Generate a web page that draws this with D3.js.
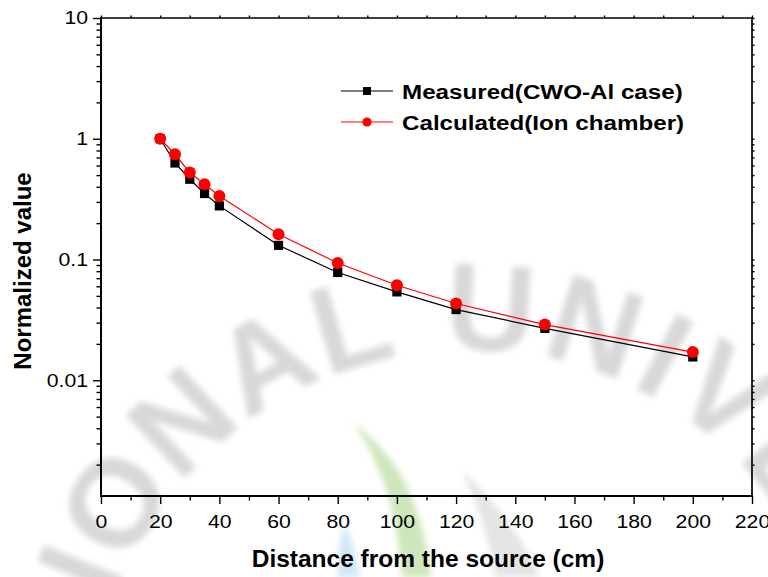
<!DOCTYPE html>
<html lang="en">
<head>
<meta charset="UTF-8">
<script src="https://cdn.jsdelivr.net/npm/d3@7"></script>
<style>
    body { margin: 0; background: #fff; }
    svg { display: block; font-family: "Liberation Sans", Arial, sans-serif; }
</style>
</head>
<body>
<script>
    /*------------------- data --------------------*/
    const distance   = [20, 25, 30, 35, 40, 60, 80, 100, 120, 150, 200];
    const measured   = [1, 0.630, 0.462, 0.352, 0.278, 0.131, 0.078, 0.0539, 0.0385, 0.0269, 0.0156];
    const calculated = [1, 0.744, 0.525, 0.420, 0.336, 0.162, 0.0936, 0.0612, 0.0432, 0.0289, 0.0171];
    const seriesNames = ["Measured(CWO-Al case)", "Calculated(Ion chamber)"];
    const xTickValues = [0, 20, 40, 60, 80, 100, 120, 140, 160, 180, 200, 220];
    const xMinorValues = [10, 30, 50, 70, 90, 110, 130, 150, 170, 190, 210];
    const yTickValues = [0.01, 0.1, 1, 10];
    const yTickLabels = ["0.01", "0.1", "1", "10"];

    /*------------------- layout --------------------*/
    const W = 768, H = 577;
    const plot = { left: 101, right: 752, top: 18, bottom: 496 };
    const stretch = 1.18;   // the original text is a bit wide

    const x = d3.scaleLinear().domain([0, 220]).range([plot.left, plot.right]);
    const y = d3.scaleLog().domain([0.0011, 10]).range([plot.bottom, plot.top]);

    const svg = d3.select("body").append("svg")
        .attr("width", W)
        .attr("height", H);

    /*------------------- watermark --------------------*/
    const defs = svg.append("defs");
    defs.append("filter").attr("id", "blur")
        .append("feGaussianBlur").attr("stdDeviation", 3);

    const wm = svg.append("g").attr("filter", "url(#blur)");
    wm.append("path").attr("d", "M353,423 Q420,470 431,577 L402,577 Q395,480 353,423 Z").attr("fill", "#cde6bb");
    wm.append("path").attr("d", "M345,523 Q336,550 338,577 L360,577 Q354,545 345,523 Z").attr("fill", "#cfe7f4");
    wm.append("path").attr("d", "M461,470 Q515,520 540,577 L495,577 Q487,520 461,470 Z").attr("fill", "#e4e4e4");

    const cx = 470, cy = 728, rb = 378;
    const a0 = -110 * Math.PI / 180, a1 = 110 * Math.PI / 180;
    const pt = a => [cx + rb * Math.sin(a), cy - rb * Math.cos(a)];
    defs.append("path").attr("id", "wmArc")
        .attr("d", `M${pt(a0)} A${rb},${rb} 0 1 1 ${pt(a1)}`);
    const offs = deg => rb * (deg * Math.PI / 180 - a0);

    [["NATIONAL", -10.5, "end", 2], ["UNIVERSITY", -4, "start", 6]].forEach(([word, deg, anchor, ls]) => {
        wm.append("text")
            .attr("font-size", 124)
            .attr("font-weight", "bold")
            .attr("letter-spacing", ls)
            .attr("fill", "#d8d8d8")
            .append("textPath").attr("href", "#wmArc")
            .attr("startOffset", offs(deg)).attr("text-anchor", anchor)
            .text(word);
    });

    /*------------------- axes --------------------*/
    const yMinor = y.ticks().filter(v => !yTickValues.some(t => Math.abs(t - v) / t < 1e-6));

    // bottom
    const xAxis = svg.append("g")
        .attr("transform", `translate(0,${plot.bottom})`)
        .call(d3.axisBottom(x).tickValues(xTickValues).tickSize(8).tickSizeOuter(0).tickPadding(11));
    const minorGroups = [];
    minorGroups.push(svg.append("g")
        .attr("transform", `translate(0,${plot.bottom})`)
        .call(d3.axisBottom(x).tickValues(xMinorValues).tickSize(4.5).tickSizeOuter(0)));

    // top (tiny ticks)
    minorGroups.push(svg.append("g")
        .attr("transform", `translate(0,${plot.top})`)
        .call(d3.axisTop(x).tickValues(xTickValues.concat(xMinorValues)).tickSize(2.5).tickSizeOuter(0)));

    // left
    const yAxis = svg.append("g")
        .attr("transform", `translate(${plot.left},0)`)
        .call(d3.axisLeft(y).tickValues(yTickValues).tickSize(8).tickSizeOuter(0)
            .tickFormat((d, i) => yTickLabels[i]));
    minorGroups.push(svg.append("g")
        .attr("transform", `translate(${plot.left},0)`)
        .call(d3.axisLeft(y).tickValues(yMinor).tickSize(4.5).tickSizeOuter(0)));

    // right (tiny ticks)
    minorGroups.push(svg.append("g")
        .attr("transform", `translate(${plot.right},0)`)
        .call(d3.axisRight(y).tickValues(yTickValues.concat(yMinor)).tickSize(2.5).tickSizeOuter(0)));

    // unlabeled tick sets: drop their texts
    minorGroups.forEach(g => g.selectAll("text").remove());

    svg.selectAll(".domain").remove();
    svg.selectAll(".tick line").attr("stroke", "#000").attr("stroke-width", 1.4);

    xAxis.selectAll("text")
        .attr("font-size", 18).attr("fill", "#000").attr("font-family", null)
        .attr("transform", `scale(${stretch},1)`);
    yAxis.selectAll("text")
        .attr("font-size", 18).attr("fill", "#000").attr("font-family", null)
        .attr("x", -13 / stretch)
        .attr("transform", `scale(${stretch},1)`);

    // frame
    const frame = svg.append("g").attr("stroke", "#000").attr("stroke-linecap", "square");
    frame.append("line").attr("x1", plot.left).attr("x2", plot.right).attr("y1", plot.bottom).attr("y2", plot.bottom).attr("stroke-width", 2);
    frame.append("line").attr("x1", plot.left).attr("x2", plot.left).attr("y1", plot.top).attr("y2", plot.bottom).attr("stroke-width", 2);
    frame.append("line").attr("x1", plot.left).attr("x2", plot.right).attr("y1", plot.top).attr("y2", plot.top).attr("stroke-width", 1.7);
    frame.append("line").attr("x1", plot.right).attr("x2", plot.right).attr("y1", plot.top).attr("y2", plot.bottom).attr("stroke-width", 1.7);

    /*------------------- titles --------------------*/
    svg.append("text")
        .attr("transform", "translate(428,567)")
        .attr("text-anchor", "middle")
        .attr("font-size", 24.5).attr("font-weight", "bold")
        .text("Distance from the source (cm)");
    svg.append("text")
        .attr("transform", "translate(31,271) rotate(-90)")
        .attr("text-anchor", "middle")
        .attr("font-size", 24).attr("font-weight", "bold")
        .text("Normalized value");

    /*------------------- series --------------------*/
    const line = d3.line().x(d => x(d[0])).y(d => y(d[1]));
    const mData = distance.map((d, i) => [d, measured[i]]);
    const cData = distance.map((d, i) => [d, calculated[i]]);

    svg.append("path").datum(mData)
        .attr("d", line).attr("fill", "none").attr("stroke", "#000").attr("stroke-width", 1.2);
    svg.selectAll(".sq").data(mData).enter().append("rect")
        .attr("class", "sq")
        .attr("x", d => x(d[0]) - 4.6).attr("y", d => y(d[1]) - 4.6)
        .attr("width", 9.2).attr("height", 9.2)
        .attr("fill", "#000");

    svg.append("path").datum(cData)
        .attr("d", line).attr("fill", "none").attr("stroke", "#ff0000").attr("stroke-width", 1.2);
    svg.selectAll(".ci").data(cData).enter().append("circle")
        .attr("class", "ci")
        .attr("cx", d => x(d[0])).attr("cy", d => y(d[1]))
        .attr("r", 6)
        .attr("fill", "#ff0000");

    /*------------------- legend --------------------*/
    const legend = svg.append("g");
    const rows = [
        { name: seriesNames[0], color: "#000", shape: "square", yy: 91 },
        { name: seriesNames[1], color: "#ff0000", shape: "circle", yy: 122 }
    ];
    rows.forEach(r => {
        legend.append("line").attr("x1", 341).attr("x2", 393).attr("y1", r.yy).attr("y2", r.yy)
            .attr("stroke", r.color).attr("stroke-width", 1.2);
        if (r.shape === "square") {
            legend.append("rect").attr("x", 367 - 4).attr("y", r.yy - 4).attr("width", 8).attr("height", 8).attr("fill", r.color);
        } else {
            legend.append("circle").attr("cx", 367).attr("cy", r.yy).attr("r", 4.6).attr("fill", r.color);
        }
        legend.append("text")
            .attr("transform", `translate(402,${r.yy + 7.5}) scale(${stretch},1)`)
            .attr("font-size", 20.5).attr("font-weight", "bold")
            .text(r.name);
    });
</script>
</body>
</html>
